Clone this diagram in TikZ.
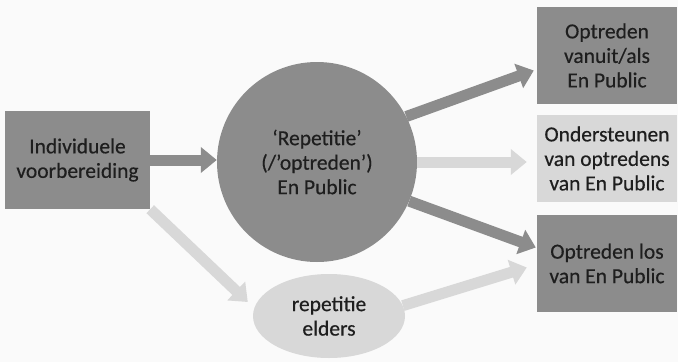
\documentclass[tikz,border=0pt]{standalone}
\usepackage{fontspec}
\setmainfont[FakeBold=0.4]{Carlito}
\usetikzlibrary{arrows.meta,calc,shapes.geometric}
\definecolor{bgc}{RGB}{250,250,250}
\definecolor{darkc}{RGB}{140,140,140}
\definecolor{lightc}{RGB}{216,216,216}
\definecolor{txtc}{RGB}{30,30,30}
\tikzset{
  lbl/.style={align=center, text=txtc, font=\fontsize{21.5}{24.5}\selectfont, inner sep=0pt},
  darkbox/.style={lbl, rectangle, fill=darkc, minimum width=140pt, minimum height=97pt},
  lightbox/.style={lbl, rectangle, fill=lightc, minimum width=140pt, minimum height=87pt},
  bigarrow/.style={line width=11pt, line cap=butt, -{Triangle[width=25pt,length=16pt]}},
  darkarrow/.style={bigarrow, draw=darkc},
  lightarrow/.style={bigarrow, draw=lightc},
}
\begin{document}
\begin{tikzpicture}[x=1pt,y=-1pt]
\fill[bgc] (0,0) rectangle (678,362);
\useasboundingbox (0,0) rectangle (678,362);

\node[darkbox, minimum width=145pt, minimum height=98pt] (L) at (77.5,160) {Individuele\\voorbereiding};
\node[lbl, circle, fill=darkc, minimum size=200pt] (C) at (317,162) {`Repetitie'\\(/'optreden')\\En Public};
\node[lbl, ellipse, fill=lightc, minimum width=152pt, minimum height=84pt] (E) at (329,316) {repetitie\\elders};
\node[darkbox] (B1) at (607,55.5) {Optreden\\vanuit/als\\En Public};
\node[lightbox] (B2) at (607,158.5) {Ondersteunen\\van optredens\\van En Public};
\node[darkbox] (B3) at (607,263.5) {Optreden los\\van En Public};

\draw[darkarrow] (L.east) -- (L.east -| C.west);
\draw[lightarrow] (L.south east) -- ($(E.west)+(-5,-14)$);
\draw[darkarrow] (C.27) -- ($(B1.west)+(-3,15)$);
\draw[lightarrow] (C.east) -- ($(C.east -| B2.west)+(-10,0)$);
\draw[darkarrow] (C.-23) -- ($(B3.west)+(-1,-16)$);
\draw[lightarrow] (E.8) -- ($(B3.west)+(-10,4)$);
\end{tikzpicture}
\end{document}
